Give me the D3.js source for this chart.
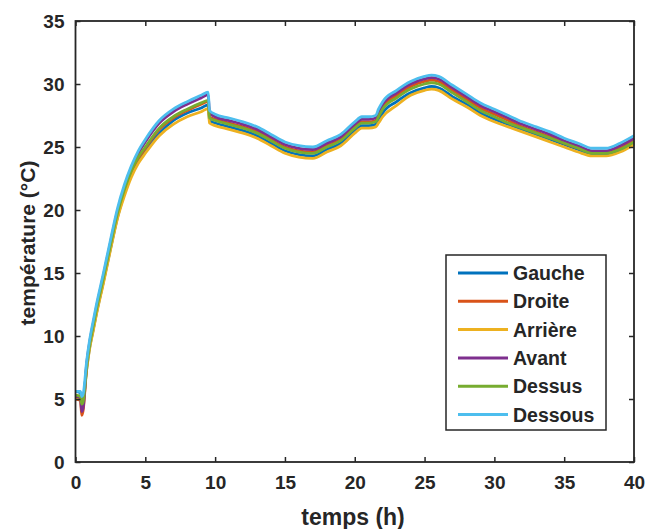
<!DOCTYPE html>
<html><head><meta charset="utf-8">
<script src="https://cdn.jsdelivr.net/npm/d3@7"></script>
<style>body{margin:0;background:#fff}svg text{font-family:"Liberation Sans",Arial,sans-serif;font-weight:bold;fill:#262626}</style>
</head><body><svg id="c" width="645" height="529"></svg>
<script>
const hours = [0,0.35,0.45,0.55,0.8,1,1.25,1.5,2,2.5,3,3.5,4,4.5,5,6,7,8,9,9.5,9.6,10,11,12,13,14,15,16,17,18,19,20,20.5,21,21.5,21.7,22,23,24,25,25.5,26,27,28,29,30,31,32,33,34,35,36,37,38,39,40];
const gauche = [5.6,5.5,4.9,5.0,7.4, 9.0,10.4,11.8,14.3,16.9, 19.4,21.3,22.8,23.9,24.7, 26.1,27.1,27.7,28.1,28.35, 27.1,26.9,26.6,26.3,25.9, 25.3,24.7,24.4,24.3,24.8, 25.3,26.3,26.7,26.7,26.8, 27.1,27.7,28.6,29.3,29.7, 29.8,29.7,29.0,28.4,27.7, 27.2,26.8,26.4,26.0,25.6, 25.2,24.8,24.4,24.4,24.7, 25.3];
const droite = [5.0,4.9,3.7,4.1,7.6, 9.2,10.6,12.0,14.5,17.1, 19.6,21.5,23.0,24.1,24.9, 26.4,27.3,27.9,28.4,28.6, 27.4,27.2,26.9,26.6,26.2, 25.6,25.0,24.7,24.6,25.1, 25.6,26.6,27.0,27.0,27.1, 27.6,28.2,29.1,29.8,30.2, 30.3,30.2,29.5,28.8,28.1, 27.6,27.1,26.6,26.2,25.8, 25.3,24.9,24.6,24.6,24.9, 25.5];
const arriere = [5.1,5.0,4.4,4.6,7.3, 8.9,10.3,11.7,14.2,16.8, 19.3,21.1,22.6,23.7,24.5, 25.9,26.8,27.4,27.8,28.05, 26.9,26.7,26.4,26.1,25.7, 25.1,24.5,24.2,24.1,24.6, 25.1,26.1,26.5,26.5,26.6, 26.9,27.4,28.3,29.1,29.5, 29.6,29.5,28.8,28.2,27.5, 27.0,26.6,26.2,25.8,25.4, 25.0,24.6,24.3,24.3,24.6, 25.2];
const avant = [5.2,5.1,4.0,4.3,7.8, 9.4,10.9,12.3,14.8,17.4, 19.9,21.8,23.3,24.5,25.4, 26.9,27.8,28.4,28.9,29.15, 27.7,27.4,27.1,26.8,26.4, 25.8,25.2,24.9,24.8,25.3, 25.8,26.8,27.2,27.2,27.3, 27.8,28.4,29.3,30.0,30.4, 30.5,30.4,29.7,29.0,28.3, 27.8,27.3,26.8,26.4,26.0, 25.5,25.1,24.7,24.7,25.1, 25.7];
const dessus = [5.3,5.2,4.6,4.8,7.6, 9.2,10.7,12.1,14.6,17.2, 19.7,21.6,23.1,24.2,25.0, 26.5,27.4,28.0,28.5,28.7, 27.3,27.1,26.8,26.5,26.1, 25.5,24.9,24.6,24.5,25.0, 25.5,26.5,26.9,26.9,27.0, 27.4,28.0,28.9,29.6,30.0, 30.1,30.0,29.3,28.6,27.9, 27.4,26.9,26.5,26.1,25.7, 25.3,24.9,24.5,24.5,24.8, 25.4];
const dessous = [5.6,5.6,5.2,5.4,8.0, 9.6,11.1,12.5,15.0,17.6, 20.1,22.0,23.5,24.7,25.6, 27.1,28.0,28.6,29.1,29.35, 27.9,27.6,27.3,27.0,26.6, 26.0,25.4,25.1,25.0,25.5, 26.0,27.0,27.4,27.4,27.5, 28.0,28.6,29.5,30.2,30.6, 30.7,30.6,29.9,29.2,28.5, 28.0,27.5,27.0,26.6,26.2, 25.7,25.3,24.9,24.9,25.3, 25.9];
const seriesNames = ["Gauche","Droite","Arrière","Avant","Dessus","Dessous"];
const seriesValues = [gauche,droite,arriere,avant,dessus,dessous];
const colors = ["#0072BD","#D95319","#EDB120","#7E2F8E","#77AC30","#4DBEEE"];
const xTicks = [0,5,10,15,20,25,30,35,40];
const yTicks = [0,5,10,15,20,25,30,35];

const svg = d3.select("#c");
const L=75.5, R=634, T=21, B=462;
const x = d3.scaleLinear().domain([0,40]).range([L,R]);
const y = d3.scaleLinear().domain([0,35]).range([B,T]);

const line = d3.line().x(d=>x(d[0])).y(d=>y(d[1])).curve(d3.curveMonotoneX);
seriesValues.forEach((vals,i)=>{
  svg.append("path").datum(hours.map((h,j)=>[h,vals[j]]))
    .attr("d",line).attr("fill","none").attr("stroke",colors[i])
    .attr("stroke-width",2.8).attr("stroke-linejoin","round");
});

function styleAxis(g){
  g.select(".domain").remove();
  g.selectAll(".tick line").attr("stroke","#262626").attr("stroke-width",1.5);
  g.selectAll(".tick text").attr("font-size","19px").attr("fill","#262626");
}
svg.append("g").attr("transform",`translate(0,${B})`)
  .call(d3.axisBottom(x).tickValues(xTicks).tickSize(-5).tickPadding(14).tickFormat(d3.format("d"))).call(styleAxis);
svg.append("g").attr("transform",`translate(0,${T})`)
  .call(d3.axisTop(x).tickValues(xTicks).tickSize(-5).tickFormat("")).call(styleAxis);
svg.append("g").attr("transform",`translate(${L},0)`)
  .call(d3.axisLeft(y).tickValues(yTicks).tickSize(-5).tickPadding(11).tickFormat(d3.format("d"))).call(styleAxis);
svg.append("g").attr("transform",`translate(${R},0)`)
  .call(d3.axisRight(y).tickValues(yTicks).tickSize(-5).tickFormat("")).call(styleAxis);
svg.append("rect").attr("x",L).attr("y",T).attr("width",R-L).attr("height",B-T)
  .attr("fill","none").attr("stroke","#262626").attr("stroke-width",1.8);

svg.append("text").attr("x",353).attr("y",525).attr("text-anchor","middle").attr("font-size","23px").text("temps (h)");
svg.append("text").attr("transform",`translate(35,${243}) rotate(-90)`).attr("text-anchor","middle").attr("font-size","21px").text("température (°C)");

const lg = svg.append("g");
lg.append("rect").attr("x",446).attr("y",255).attr("width",160).attr("height",175)
  .attr("fill","#fff").attr("stroke","#262626").attr("stroke-width",1.5);
seriesNames.forEach((n,i)=>{
  const yy = 273 + i*28.3;
  lg.append("line").attr("x1",458).attr("x2",508).attr("y1",yy).attr("y2",yy).attr("stroke",colors[i]).attr("stroke-width",3);
  lg.append("text").attr("x",513).attr("y",yy+7).attr("font-size","19.5px").text(n);
});
</script></body></html>
